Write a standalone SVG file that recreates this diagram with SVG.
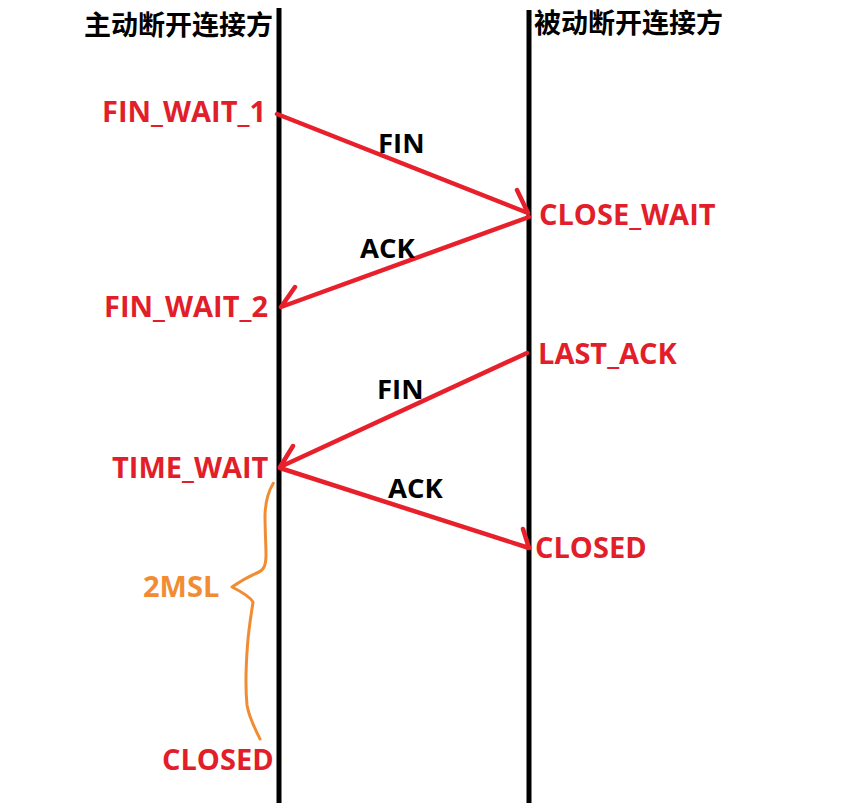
<svg xmlns="http://www.w3.org/2000/svg" width="861" height="803" viewBox="0 0 861 803">
<style>
.title{font-family:"Noto Sans CJK SC","Noto Sans",sans-serif;font-weight:bold;font-size:27px;fill:#000}
.state{font-family:"Open Sans","Noto Sans",sans-serif;font-weight:bold;font-size:29px;fill:#e21e2a}
.msg{font-family:"Open Sans","Noto Sans",sans-serif;font-weight:bold;font-size:27.5px;fill:#000}
.msl{font-family:"Open Sans","Noto Sans",sans-serif;font-weight:bold;font-size:29px;fill:#f28c33}
.life{stroke:#000;stroke-width:5;fill:none}
.arr{stroke:#e8202c;stroke-width:4.5;fill:none;stroke-linecap:round;stroke-linejoin:round}
</style>
<rect width="861" height="803" fill="#fff"/>
<g id="lifelines">
<line class="life" x1="279" y1="8" x2="279" y2="803"/>
<line class="life" x1="529" y1="10" x2="529" y2="803"/>
</g>
<g id="active"><text class="title" x="84" y="35">主动断开连接方</text></g>
<g id="passive"><text class="title" x="534" y="33">被动断开连接方</text></g>
<g id="fin_wait_1"><text class="state" x="102" y="122">FIN_WAIT_1</text></g>
<g id="close_wait"><text class="state" x="539" y="225">CLOSE_WAIT</text></g>
<g id="fin_wait_2"><text class="state" x="104" y="317">FIN_WAIT_2</text></g>
<g id="last_ack"><text class="state" x="538" y="364">LAST_ACK</text></g>
<g id="time_wait"><text class="state" x="112" y="478">TIME_WAIT</text></g>
<g id="closed_right"><text class="state" x="535" y="558">CLOSED</text></g>
<g id="closed_left"><text class="state" x="162" y="770">CLOSED</text></g>
<g id="msl"><text class="msl" x="143" y="597">2MSL</text>
<path d="M273.3,483.3 C268,492 265.5,500 265,515 C265,530 266,545 266,555 C266,565 264,570 258,572.5 C252,575 245,578 232,587 C242,592 250,597 253,602 C252,610 249,625 247.5,645 C246,665 245.5,690 247,705 C249,718 255,728 260,739" stroke="#f28c33" stroke-width="3" fill="none" stroke-linecap="round" stroke-linejoin="round"/></g>
<g id="connectors">
<path class="arr" d="M277,114 L528,213 M517,190 L528,213"/>
<text class="msg" x="378" y="153">FIN</text>
<path class="arr" d="M529,217 L281,307 M295,287 L281,307"/>
<text class="msg" x="360" y="258">ACK</text>
<path class="arr" d="M527,353 L280,467 M293,446 L280,467"/>
<text class="msg" x="377" y="399">FIN</text>
<path class="arr" d="M280,468 L529,548 M523,529 L529,548"/>
<text class="msg" x="388" y="498">ACK</text>
</g>
</svg>
